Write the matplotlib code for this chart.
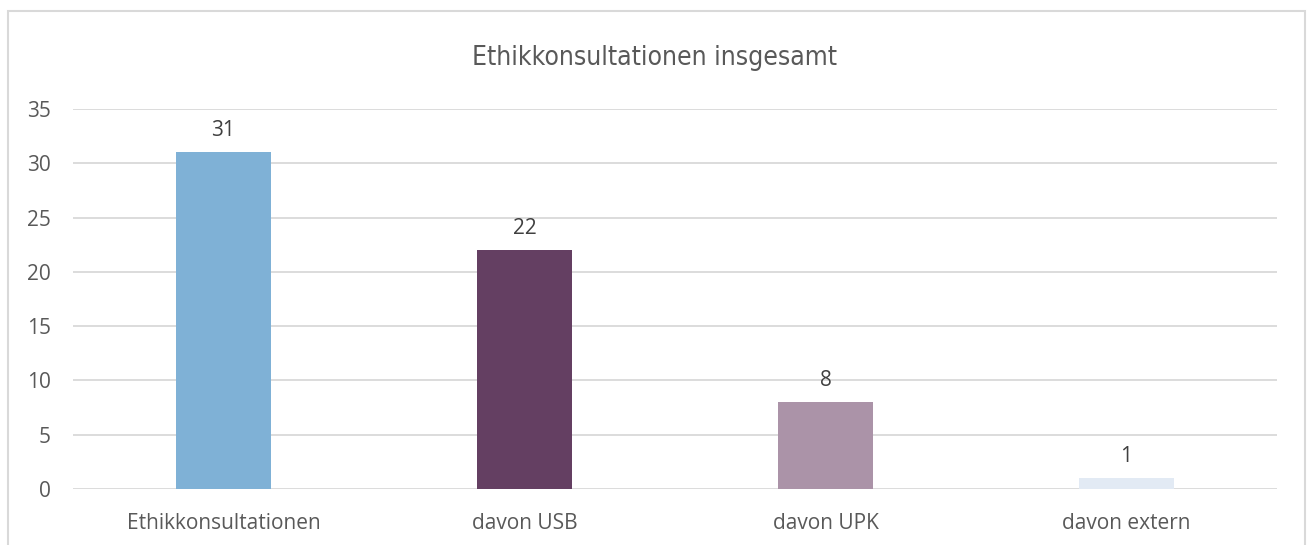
import matplotlib
matplotlib.use("Agg")
import matplotlib.pyplot as plt
from matplotlib.patches import Rectangle

categories = ["Ethikkonsultationen", "davon USB", "davon UPK", "davon extern"]
values = [31, 22, 8, 1]
colors = ["#7FB1D6", "#643F62", "#AB93A8", "#E2EAF4"]
yticks = [0, 5, 10, 15, 20, 25, 30, 35]
title = "Ethikkonsultationen insgesamt"

fig = plt.figure(figsize=(13.08, 5.45), dpi=100)
ax = fig.add_axes([73/1308, 1-489/545, (1277-73)/1308, (489-109)/545])

x = list(range(len(categories)))
ax.bar(x, values, width=0.315, color=colors, zorder=3)
for xi, v in zip(x, values):
    ax.annotate(str(v), (xi, v), xytext=(0, 8), textcoords="offset points",
                ha="center", va="bottom", fontsize=15, color="#404040", family="Open Sans")

ax.set_xlim(-0.5, 3.5)
ax.set_ylim(0, 35)
ax.set_yticks(yticks)
ax.set_xticks(x)
ax.set_xticklabels(categories)
ax.grid(axis="y", color="#D9D9D9", linewidth=1.3, zorder=0)
for s in ax.spines.values():
    s.set_visible(False)
ax.tick_params(axis="both", length=0, labelsize=15, labelcolor="#595959")
ax.tick_params(axis="x", pad=17)
ax.tick_params(axis="y", pad=16)
for lab in ax.get_xticklabels() + ax.get_yticklabels():
    lab.set_family("Open Sans")

fig.text(0.5, 1-58/545, title, ha="center", va="center", fontsize=19,
         color="#595959", family="DejaVu Sans", fontstretch="condensed",
         fontweight="light")

fig.patches.append(Rectangle((8/1308, -0.1), (1305-8)/1308, 1.1-10.5/545,
                             transform=fig.transFigure, fill=False,
                             edgecolor="#D9D9D9", linewidth=1.5))

fig.savefig("out.png", dpi=100)
